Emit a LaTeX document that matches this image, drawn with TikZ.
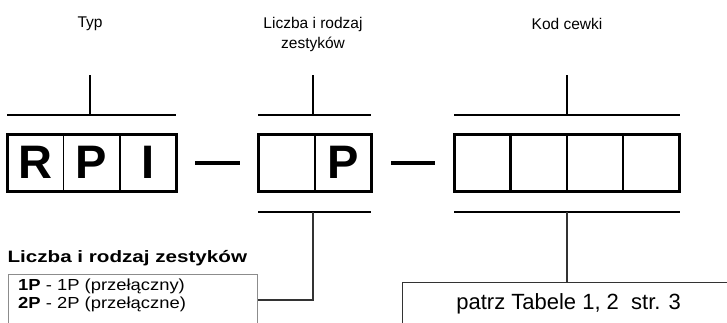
\documentclass[tikz,border=0pt]{standalone}
\usepackage{fontspec}
\setmainfont{Liberation Sans}
\newfontfamily\widesans[FakeStretch=1.25]{Liberation Sans}
\newfontfamily\listsans[FakeStretch=1.15]{Liberation Sans}
\usetikzlibrary{positioning, calc}
\definecolor{framegray}{gray}{0.55}
\definecolor{linkgray}{gray}{0.2}

\begin{document}
\begin{tikzpicture}[x=1pt, y=-1pt]
    \useasboundingbox (0, 0) rectangle (727, 322);
    \clip (0, 0) rectangle (727, 322);

    % Define styles for cells and lines
    \tikzstyle{cell} = [rectangle, draw=black, line width=1.8pt, outer sep=0pt, inner sep=0pt, minimum width=56.4pt, minimum height=57pt, font=\fontsize{47}{47}\selectfont\bfseries]
    \tikzstyle{frame} = [line width=3pt]
    \tikzstyle{hyphen} = [line width=4pt]
    \tikzstyle{bracket} = [line width=1.8pt]
    \tikzstyle{link} = [line width=1.3pt, draw=linkgray]
    \tikzstyle{caption} = [font=\fontsize{15.5}{20}\selectfont, align=center]
    \tikzstyle{listbox} = [rectangle, draw=framegray, line width=1pt, anchor=north west, minimum width=249pt, minimum height=60pt]

    % captions
    \node (typ) [caption] at (90, 24) {Typ};
    \node (zestyki) [caption] at (313, 34) {Liczba i rodzaj\\zestyków};
    \node (cewka) [caption] at (567, 24) {Kod cewki};

    % cells
    \node (r1) [cell] at (35.2, 162.5) {R};
    \node (r2) [cell, right=0pt of r1] {P};
    \node (r3) [cell, right=0pt of r2] {I};
    \node (z1) [cell] at (286.5, 162.5) {};
    \node (z2) [cell, right=0pt of z1] {P};
    \node (k1) [cell, line width=2.4pt] at (482.2, 162.5) {};
    \node (k2) [cell, line width=2.4pt, right=0pt of k1] {};
    \node (k3) [cell, line width=2.4pt, right=0pt of k2] {};
    \node (k4) [cell, line width=2.4pt, right=0pt of k3] {};
    \draw [frame] (r1.north west) rectangle (r3.south east);
    \draw [frame] (z1.north west) rectangle (z2.south east);
    \draw [frame] (k1.north west) rectangle (k4.south east);

    % dashes between the groups
    \draw [hyphen, shorten <=19pt, shorten >=18pt] (r3.east) -- (z1.west);
    \draw [hyphen, shorten <=20pt, shorten >=19pt] (z2.east) -- (k1.west);

    % boxes below
    \node (heading) [font=\widesans\bfseries\fontsize{16.5}{20}\selectfont, anchor=west] at (4, 258) {Liczba i rodzaj zestyków};
    \node (list) [listbox] at (8, 274) {};
    \node (listtext) [font=\listsans\fontsize{16}{18}\selectfont, align=left, anchor=north west, inner sep=0pt] at ([xshift=10pt, yshift=-5pt]list.north west) {\textbf{1P} - 1P (przełączny)\\\textbf{2P} - 2P (przełączne)};
    \node (tabele) [rectangle, draw=linkgray, line width=1.3pt, minimum width=332pt, minimum height=42pt, anchor=north west, font=\fontsize{22}{26}\selectfont] at (402, 282) {patrz Tabele 1, 2~~str. 3};

    % brackets above
    \coordinate (typbar) at ($(typ |- r1.north) + (0, -19)$);
    \coordinate (typtick) at ($(typbar) + (0, -40)$);
    \draw [bracket] (r1.north west |- typbar) -- (r3.north east |- typbar);
    \draw [bracket] (typbar) -- (typtick);
    \coordinate (zbartop) at ($(zestyki |- z1.north) + (0, -19)$);
    \coordinate (ztick) at ($(zbartop) + (0, -40)$);
    \draw [bracket] (z1.north west |- zbartop) -- (z2.north east |- zbartop);
    \draw [bracket] (zbartop) -- (ztick);
    \coordinate (kbartop) at ($(cewka |- k1.north) + (0, -19)$);
    \coordinate (ktick) at ($(kbartop) + (0, -40)$);
    \draw [bracket] (k1.north west |- kbartop) -- (k4.north east |- kbartop);
    \draw [bracket] (kbartop) -- (ktick);

    % brackets below
    \coordinate (zbar) at ($(zestyki |- z1.south) + (0, 21)$);
    \draw [bracket] (z1.south west |- zbar) -- (z2.south east |- zbar);
    \draw [link] (zbar) |- ($(list.north east) + (0, 26)$);
    \coordinate (kbar) at ($(cewka |- k1.south) + (0, 21)$);
    \draw [bracket] (k1.south west |- kbar) -- (k4.south east |- kbar);
    \draw [link] (kbar) -- (kbar |- tabele.north);
\end{tikzpicture}
\end{document}
